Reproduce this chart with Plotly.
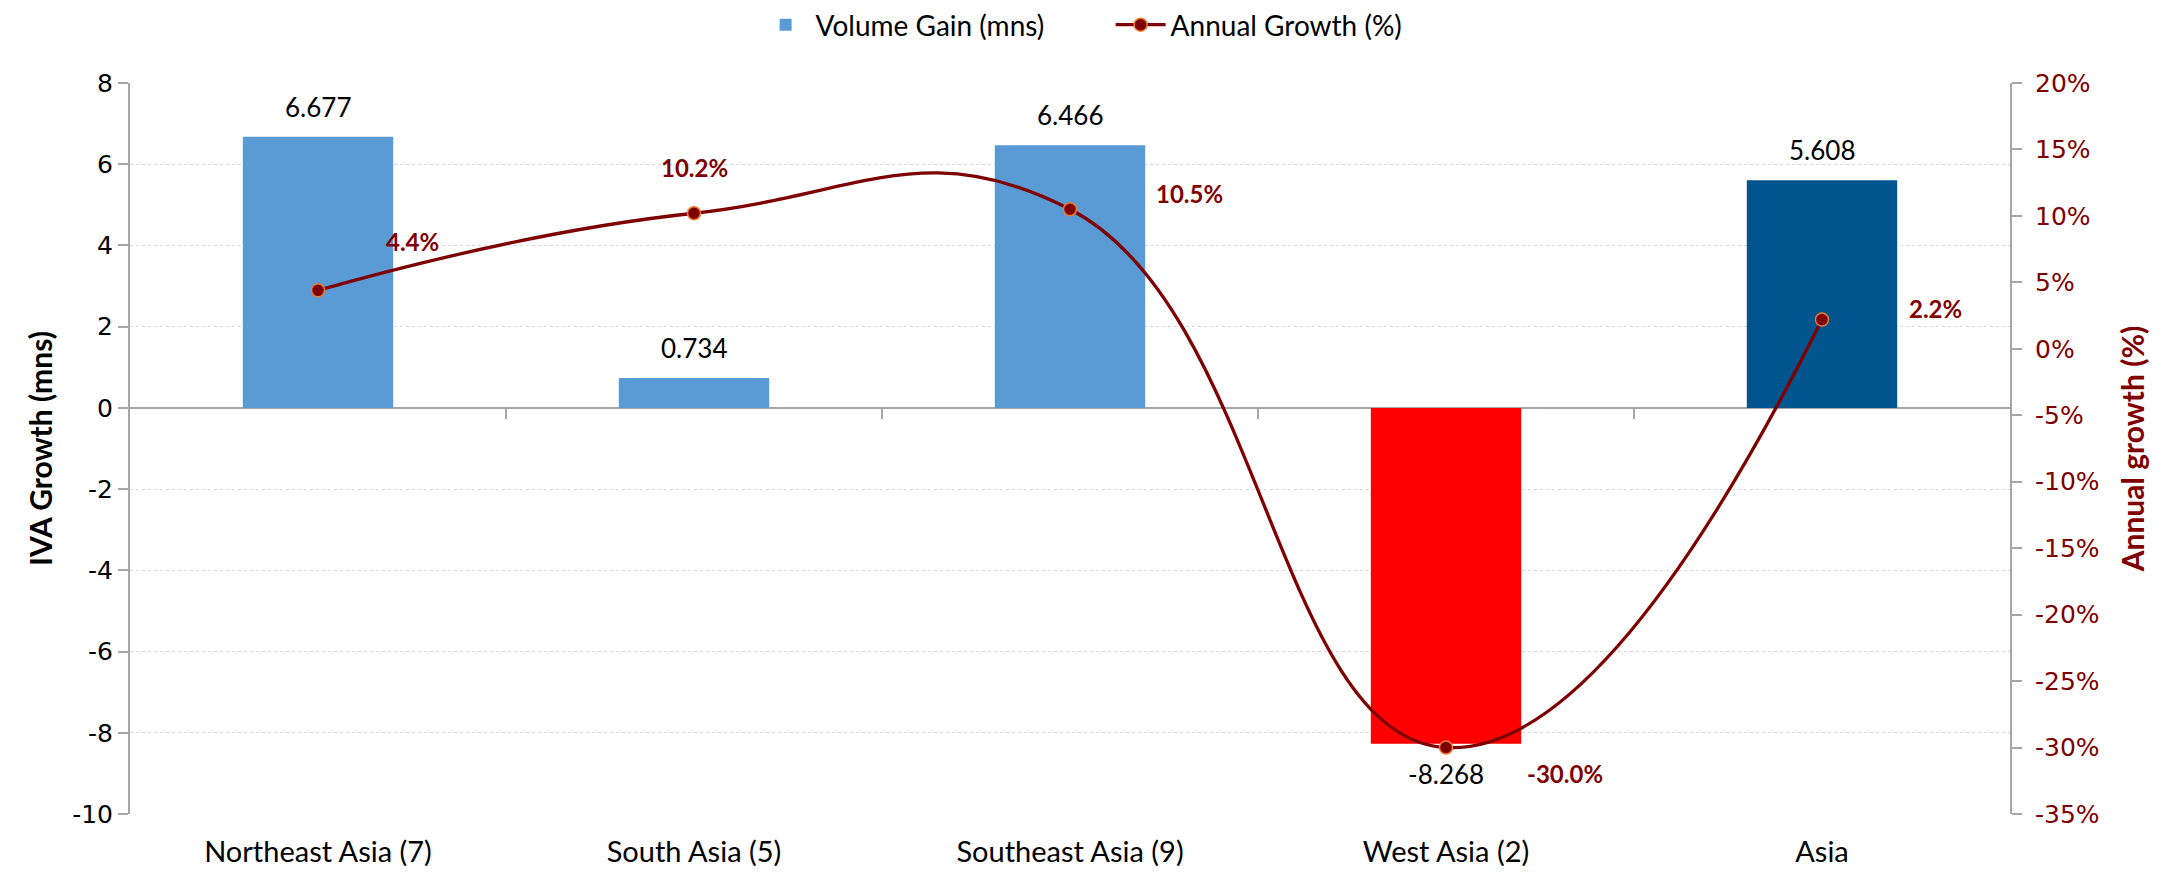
import plotly.graph_objects as go

# chart data
regions = ["Northeast Asia (7)", "South Asia (5)", "Southeast Asia (9)", "West Asia (2)", "Asia"]
volume_gain = [6.677, 0.734, 6.466, -8.268, 5.608]
annual_growth = [0.044, 0.102, 0.105, -0.300, 0.022]
bar_colors = ["#5B9BD5", "#5B9BD5", "#5B9BD5", "#FF0000", "#00558F"]

left_ticks = [-10, -8, -6, -4, -2, 0, 2, 4, 6, 8]
left_ticktext = ["-10", "-8", "-6", "-4", "-2", "0", "2", "4", "6", "8"]
right_ticks = [-0.35, -0.30, -0.25, -0.20, -0.15, -0.10, -0.05, 0.0, 0.05, 0.10, 0.15, 0.20]
right_ticktext = ["-35%", "-30%", "-25%", "-20%", "-15%", "-10%", "-5%", "0%", "5%", "10%", "15%", "20%"]

MAROON = "#7F0000"
GRAY = "#A6A6A6"
TEXT_FONT = "Lato"
TICK_FONT = "DejaVu Sans"

# pixel offsets of the growth labels from their points (style only)
growth_label_shift = [(94, 49), (0, 46), (119, 16), (119, -26), (113, 11)]

y_min, y_max = left_ticks[0], left_ticks[-1]
zero_frac = (0 - y_min) / (y_max - y_min)

# page body adds an 8px margin, so the figure is 8px smaller than the window
W, H = 2162, 865

fig = go.Figure()

fig.add_trace(go.Bar(
    x=regions, y=volume_gain, name="Volume Gain (mns)",
    marker=dict(color=bar_colors, line=dict(width=0)),
    width=0.4, yaxis="y", xaxis="x",
))

fig.add_trace(go.Scatter(
    x=regions, y=annual_growth, name="Annual Growth (%)",
    mode="lines+markers", yaxis="y2", xaxis="x",
    line=dict(color=MAROON, width=3.3, shape="spline", smoothing=1.3),
    marker=dict(size=13, color=MAROON, line=dict(color="#ED7D31", width=1.5)),
    cliponaxis=False,
))

# empty trace so the category-boundary tick axis on the zero line gets drawn
fig.add_trace(go.Scatter(x=[], y=[], xaxis="x2", yaxis="y", showlegend=False, hoverinfo="skip"))

annotations = []
for r, v in zip(regions, volume_gain):
    annotations.append(dict(
        x=r, y=v, xref="x", yref="y", text=f"{v:.3f}", showarrow=False,
        yanchor="bottom" if v >= 0 else "top", yshift=12 if v >= 0 else -12,
        font=dict(family=TEXT_FONT, size=26, color="#000000"),
    ))
for r, g, (dx, dy) in zip(regions, annual_growth, growth_label_shift):
    annotations.append(dict(
        x=r, y=g, xref="x", yref="y2", text=f"<b>{g * 100:.1f}%</b>", showarrow=False,
        xshift=dx, yshift=dy,
        font=dict(family=TEXT_FONT, size=24, color=MAROON),
    ))

fig.update_layout(
    width=W, height=H,
    margin=dict(l=122, r=160, t=75, b=59, autoexpand=False),
    plot_bgcolor="white", paper_bgcolor="white",
    showlegend=True,
    legend=dict(
        orientation="h", xref="container", yref="container",
        x=0.51, xanchor="center", y=1 - 17 / H, yanchor="middle",
        font=dict(family=TEXT_FONT, size=28, color="#000000"),
        itemwidth=50, traceorder="normal", entrywidth=290,
    ),
    xaxis=dict(
        type="category", categoryorder="array", categoryarray=regions,
        range=[-0.5, len(regions) - 0.5],
        showline=False, showgrid=False, zeroline=False, ticks="",
        tickfont=dict(family=TEXT_FONT, size=29, color="#000000"),
        ticklabelstandoff=18,
    ),
    xaxis2=dict(
        overlaying="x", anchor="free", position=zero_frac,
        range=[-0.5, len(regions) - 0.5],
        tickvals=[i + 0.5 for i in range(len(regions) - 1)],
        ticks="outside", ticklen=10, tickcolor=GRAY, tickwidth=1.5,
        showticklabels=False, showgrid=False, zeroline=False, showline=False,
    ),
    yaxis=dict(
        range=[y_min, y_max], tickvals=left_ticks, ticktext=left_ticktext,
        showgrid=True, gridcolor="#D9D9D9", griddash="dot", gridwidth=1,
        zeroline=True, zerolinecolor=GRAY, zerolinewidth=2,
        showline=True, linecolor=GRAY, linewidth=2,
        ticks="outside", ticklen=10, tickcolor=GRAY, tickwidth=1.5,
        tickfont=dict(family=TICK_FONT, size=25, color="#000000"),
        title=dict(text="<b>IVA Growth (mns)</b>", standoff=11,
                   font=dict(family=TEXT_FONT, size=30, color="#000000")),
    ),
    yaxis2=dict(
        overlaying="y", side="right", anchor="x",
        range=[right_ticks[0], right_ticks[-1]], tickvals=right_ticks, ticktext=right_ticktext,
        showgrid=False, zeroline=False,
        showline=True, linecolor=GRAY, linewidth=2,
        ticks="outside", ticklen=10, tickcolor=GRAY, tickwidth=1.5,
        ticklabelstandoff=8,
        tickfont=dict(family=TICK_FONT, size=25, color=MAROON),
        title=dict(text="<b>Annual growth (%)</b>", standoff=24,
                   font=dict(family=TEXT_FONT, size=30, color=MAROON)),
    ),
    annotations=annotations,
)

fig.write_html("out.html")
